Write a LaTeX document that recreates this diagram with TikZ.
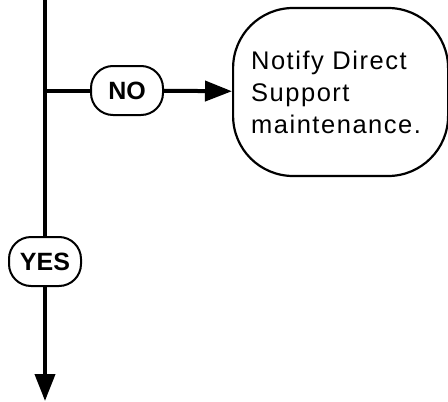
\documentclass[tikz,border=0pt]{standalone}
\usepackage{fontspec}
\setmainfont{Liberation Sans}
\usepackage{tikz}
\usetikzlibrary{arrows.meta, positioning}

\begin{document}
\begin{tikzpicture}[x=1pt, y=1pt,
		flow/.style={line width=4pt},
		tip/.style={-{Triangle[length=27pt, width=20pt]}},
		answer/.style={draw, line width=2pt, rectangle, rounded corners=22pt,
			minimum width=72pt, minimum height=49pt, inner sep=0pt,
			font=\fontsize{25}{30}\selectfont\bfseries},
		action/.style={draw, line width=2.2pt, rectangle, rounded corners=60pt,
			text width=179pt, inner xsep=18pt, inner ysep=0pt, align=left,
			minimum height=168pt,
			font=\fontsize{25.5}{32}\selectfont\addfontfeatures{LetterSpace=6}}]
			% Rahmen
			\useasboundingbox (0,0) rectangle (448,-402);
			
			% Punkte
			\coordinate (top) at (45,2);
			\coordinate (fork) at (45,-90.5);
			\coordinate (bottom) at (45,-401);
			
			% Knoten
			\node[answer] (no) at (127,-90.5) {NO};
			\node[answer] (yes) at (45,-261.5) {YES};
			\node[action, anchor=west] (notify) at (232,-92) {Notify Direct\\Support\\maintenance.};
			
			% Verbindungen
			\draw[flow] (top) -- (yes);
			\draw[flow] (fork) -- (no);
			\draw[flow, tip] (no) -- (notify);
			\draw[flow, tip] (yes) -- (bottom);
		\end{tikzpicture}
\end{document}
